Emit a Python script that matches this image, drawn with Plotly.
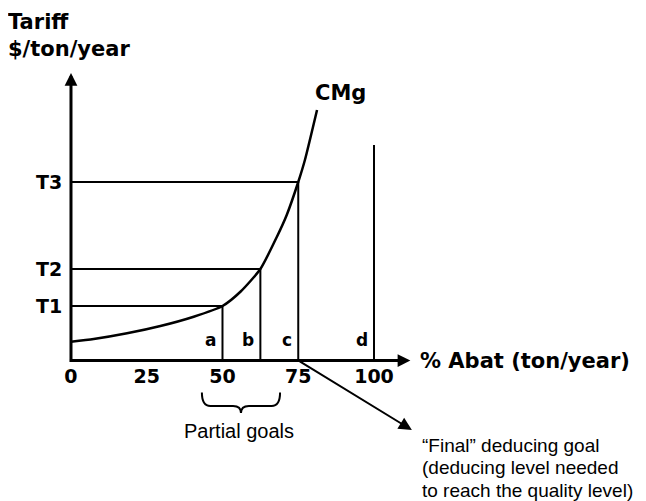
import plotly.graph_objects as go

# ---- data (schematic values) ----
curve_x = [0, 7.5, 18.5, 29.5, 40.5, 50, 56, 62.5, 68, 71.2, 75, 77.2, 81.2]
curve_y = [18.8, 21.5, 27.2, 34.5, 43.8, 54.5, 69, 91.5, 124, 145.5, 178.5, 200.5, 250.5]

goal_x = [50, 62.5, 75]          # a, b, c
tariff_y = [54.5, 91.5, 178.5]   # T1, T2, T3
tariff_labels = ["T1", "T2", "T3"]
goal_labels = ["a", "b", "c", "d"]
final_goal_x = 100
final_goal_top = 215.5
tick_vals = [0, 25, 50, 75, 100]
tick_text = ["0", "25", "50", "75", "100"]
x_axis_end = 112
y_axis_end = 287.5

final_note = ["\u201cFinal\u201d deducing goal",
              "(deducing level needed",
              "to reach the quality level)"]

BOLD = "DejaVu Sans"
REG = "Liberation Sans"

fig = go.Figure()

# CMg curve
fig.add_trace(go.Scatter(x=curve_x, y=curve_y, mode="lines",
                         line=dict(color="black", width=2.5, shape="spline", smoothing=0.6),
                         hoverinfo="skip", showlegend=False))

# x tick labels
fig.add_trace(go.Scatter(x=tick_vals, y=[-18] * len(tick_vals), mode="text",
                         text=tick_text, textposition="middle center",
                         textfont=dict(family=BOLD, size=19, color="black", weight="bold"),
                         hoverinfo="skip", showlegend=False))

shapes = []
ann = []
# horizontal tariff lines and vertical goal lines
for gx, ty, tl, gl in zip(goal_x, tariff_y, tariff_labels, goal_labels):
    shapes.append(dict(type="line", xref="x", yref="y", x0=0, x1=gx, y0=ty, y1=ty,
                       line=dict(color="black", width=2)))
    shapes.append(dict(type="line", xref="x", yref="y", x0=gx, x1=gx, y0=0, y1=ty,
                       line=dict(color="black", width=2)))
    ann.append(dict(x=0, y=ty, xref="x", yref="y", text=tl, showarrow=False,
                    xanchor="right", yanchor="middle", xshift=-7,
                    font=dict(family=BOLD, size=19, color="black", weight="bold")))
    ann.append(dict(x=gx, y=20.5, xref="x", yref="y", text=gl, showarrow=False,
                    xanchor="right", yanchor="middle", xshift=-4,
                    font=dict(family=BOLD, size=17, color="black", weight="bold")))

# final goal line d
shapes.append(dict(type="line", xref="x", yref="y", x0=final_goal_x, x1=final_goal_x,
                   y0=0, y1=final_goal_top, line=dict(color="black", width=2)))
ann.append(dict(x=final_goal_x, y=20.5, xref="x", yref="y", text=goal_labels[3], showarrow=False,
                xanchor="right", yanchor="middle", xshift=-4,
                font=dict(family=BOLD, size=17, color="black", weight="bold")))

# axes with arrows
ann.append(dict(x=0, y=y_axis_end, ax=0, ay=0, xref="x", yref="y", axref="x", ayref="y",
                text="", showarrow=True, arrowhead=2, arrowwidth=3, arrowsize=0.85,
                arrowcolor="black", standoff=0, startstandoff=0))
ann.append(dict(x=x_axis_end, y=0, ax=-1.0, ay=0, xref="x", yref="y", axref="x", ayref="y",
                text="", showarrow=True, arrowhead=2, arrowwidth=3, arrowsize=0.85,
                arrowcolor="black", standoff=0, startstandoff=0))

# diagonal arrow from c to the final-goal note
ann.append(dict(x=112.5, y=-69.5, ax=goal_x[2], ay=0, xref="x", yref="y", axref="x", ayref="y",
                text="", showarrow=True, arrowhead=2, arrowwidth=2, arrowsize=1.3,
                arrowcolor="black", standoff=0, startstandoff=0))

# axis titles
ann.append(dict(x=0, y=1, xref="paper", yref="paper", text="Tariff<br>$/ton/year",
                showarrow=False, xanchor="left", yanchor="top", align="left", xshift=-2, yshift=0,
                font=dict(family=BOLD, size=21, color="black", weight="bold")))
ann.append(dict(x=x_axis_end, y=0, xref="x", yref="y", text="% Abat (ton/year)",
                showarrow=False, xanchor="left", yanchor="middle", xshift=8,
                font=dict(family=BOLD, size=21, color="black", weight="bold")))
ann.append(dict(x=89.1, y=267.5, xref="x", yref="y", text="CMg", showarrow=False,
                xanchor="center", yanchor="middle",
                font=dict(family=BOLD, size=21, color="black", weight="bold")))

# brace for partial goals
shapes.append(dict(type="path", xref="x", yref="y",
                   path="M 43.2,-32 Q 43.2,-45.5 46,-45.5 L 53.5,-45.5 Q 56.1,-45.5 56.1,-52.5 "
                        "Q 56.1,-45.5 58.7,-45.5 L 66.2,-45.5 Q 69,-45.5 69,-32",
                   line=dict(color="black", width=2)))
ann.append(dict(x=55.4, y=-70, xref="x", yref="y", text="Partial goals", showarrow=False,
                xanchor="center", yanchor="middle",
                font=dict(family=REG, size=20, color="black")))

for i, line in enumerate(final_note):
    ann.append(dict(x=115.8, y=-84.5 - 22.5 * i, xref="x", yref="y", text=line, showarrow=False,
                    xanchor="left", yanchor="middle", xshift=-2,
                    font=dict(family=REG, size=19, color="black")))

# page body has an 8px margin: figure is 638x493 so that it fits the 646x501 view
fig.update_layout(
    width=638, height=493,
    margin=dict(l=0, r=0, t=0, b=0),
    paper_bgcolor="white", plot_bgcolor="white",
    xaxis=dict(range=[-20.79, 189.77], visible=False, fixedrange=True),
    yaxis=dict(range=[-140.5, 352.5], visible=False, fixedrange=True),
    shapes=shapes, annotations=ann,
)

fig.write_html("out.html")
